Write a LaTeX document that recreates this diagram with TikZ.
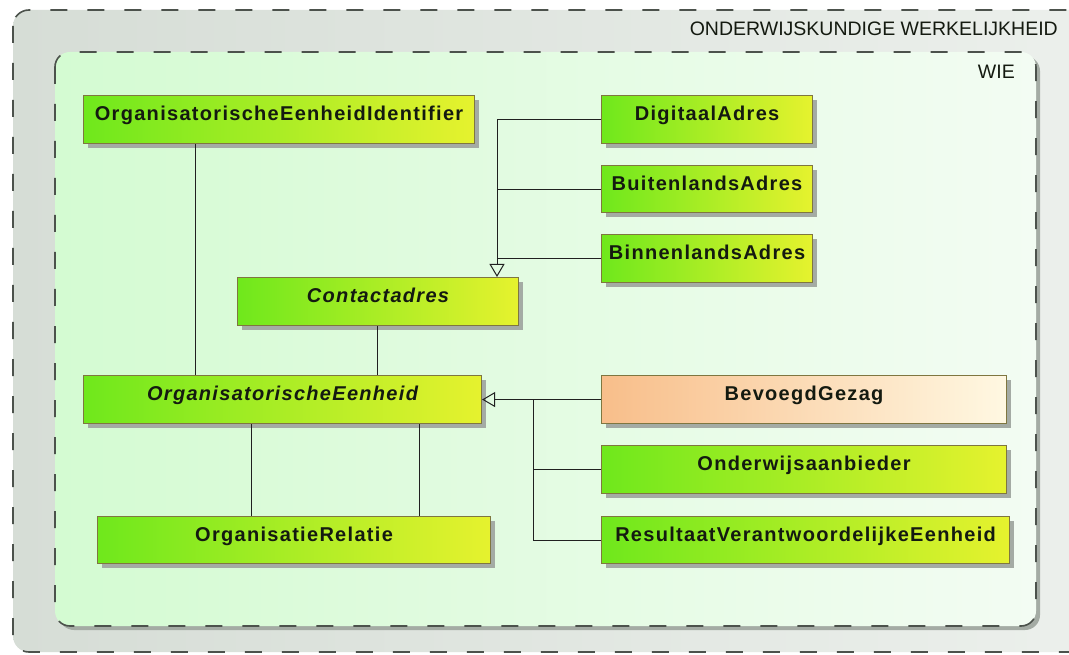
\documentclass[tikz,border=0pt]{standalone}
\usepackage{fontspec}
\setmainfont{Liberation Sans}
\newfontfamily\boxfont[LetterSpace=6.5]{Liberation Sans}
\usetikzlibrary{arrows.meta,shadows}
\definecolor{boxleft}{HTML}{6FE81C}
\definecolor{boxright}{HTML}{E6F22E}
\definecolor{bgleft}{HTML}{F8BE8A}
\definecolor{bgright}{HTML}{FFF8E2}
\definecolor{boxborder}{HTML}{7F7640}
\definecolor{shadowgray}{HTML}{A4ABA4}
\definecolor{textdark}{HTML}{141A10}
\definecolor{framedash}{HTML}{4C524C}
\definecolor{outerleft}{HTML}{D6DDD6}
\definecolor{outerright}{HTML}{ECF0EC}
\definecolor{innerleft}{HTML}{D4FBD2}
\definecolor{innerright}{HTML}{F3FCF3}
\definecolor{linecol}{HTML}{202020}
\begin{document}
\begin{tikzpicture}[x=1pt,y=-1pt,
  cls/.style={draw=boxborder, line width=1.1pt, left color=boxleft, right color=boxright,
    drop shadow={shadow xshift=4pt, shadow yshift=-4pt, fill=shadowgray, opacity=1},
    anchor=north west, inner sep=0pt, text height=13pt, text depth=11pt,
    font=\boxfont\fontsize{20}{22}\selectfont\bfseries, text=textdark},
  abstractcls/.style={cls, font=\boxfont\fontsize{20}{22}\selectfont\bfseries\itshape},
  bgcls/.style={cls, left color=bgleft, right color=bgright},
  conn/.style={draw=linecol, line width=1pt},
  gen/.style={conn, -{Triangle[open, length=13pt, width=15pt, line width=1pt]}},
  framebox/.style={draw=framedash, line width=1.6pt, dash pattern=on 17pt off 20pt},
  framelabel/.style={anchor=base east, inner sep=0pt, text=textdark, font=\fontsize{19.5}{22}\selectfont}
]
\useasboundingbox (0,0) rectangle (1069,655);
\clip (0,0) rectangle (1069,655);
\fill[white] (0,0) rectangle (1069,655);

% outer frame
\path[framebox, left color=outerleft, right color=outerright, rounded corners=16pt]
  (13,10) rectangle (1100,652);
\node[framelabel] (lblouter) at (1058,36) {ONDERWIJSKUNDIGE WERKELIJKHEID};

% inner frame
\fill[shadowgray, rounded corners=15pt] (59,56) rectangle (1040,630);
\path[framebox, left color=innerleft, right color=innerright, rounded corners=15pt]
  (55,52) rectangle (1036,626);
\node[framelabel] (lblwie) at (1015,79) {WIE};

% classes
\node[cls, minimum width=391pt, minimum height=48pt] (oei) at (83,95) {OrganisatorischeEenheidIdentifier};
\node[cls, minimum width=211pt, minimum height=48pt] (dig) at (601,95) {DigitaalAdres};
\node[cls, minimum width=211pt, minimum height=47pt] (bui) at (601,165) {BuitenlandsAdres};
\node[cls, minimum width=211pt, minimum height=48pt] (bin) at (601,234) {BinnenlandsAdres};
\node[abstractcls, minimum width=281pt, minimum height=48pt] (con) at (237,277) {Contactadres};
\node[abstractcls, minimum width=398pt, minimum height=48pt] (oe) at (83,375) {OrganisatorischeEenheid};
\node[cls, minimum width=393pt, minimum height=47pt] (rel) at (97,516) {OrganisatieRelatie};
\node[bgcls, minimum width=405pt, minimum height=48pt] (bg) at (601,375) {BevoegdGezag};
\node[cls, minimum width=405pt, minimum height=48pt] (ond) at (601,445) {Onderwijsaanbieder};
\node[cls, minimum width=408pt, minimum height=47pt] (rve) at (601,516) {ResultaatVerantwoordelijkeEenheid};

% connector guides
\coordinate (t1) at (497,0);
\coordinate (t2) at (533,0);
\coordinate (a1) at (195,0);
\coordinate (a2) at (377,0);
\coordinate (a3) at (251,0);
\coordinate (a4) at (419,0);

% generalizations to Contactadres
\draw[conn] (dig.west) -- (dig.west -| t1);
\draw[conn] (bui.west) -- (bui.west -| t1);
\draw[conn] (bin.west) -- (bin.west -| t1);
\draw[gen] (dig.west -| t1) -- (con.north -| t1);

% generalizations to OrganisatorischeEenheid
\draw[gen] (bg.west) -- (oe.east);
\draw[conn] (ond.west) -- (ond.west -| t2) -- (t2 |- bg.west);
\draw[conn] (rve.west) -- (rve.west -| t2) -- (t2 |- bg.west);

% associations
\draw[conn] (oei.south -| a1) -- (oe.north -| a1);
\draw[conn] (con.south -| a2) -- (oe.north -| a2);
\draw[conn] (oe.south -| a3) -- (rel.north -| a3);
\draw[conn] (oe.south -| a4) -- (rel.north -| a4);
\end{tikzpicture}
\end{document}
